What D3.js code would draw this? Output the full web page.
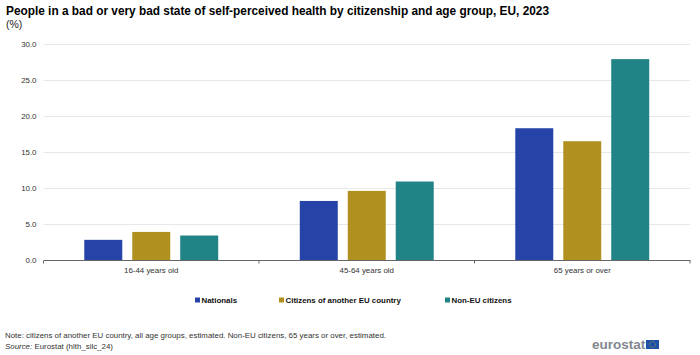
<!DOCTYPE html>
<html>
<head>
<meta charset="utf-8">
<script src="https://cdn.jsdelivr.net/npm/d3@7"></script>
<style>
body { margin: 0; background: #fff; }
text { font-family: "Liberation Sans", Arial, sans-serif; }
</style>
</head>
<body>
<div id="chart"></div>
<script>
var categories = ["16-44 years old", "45-64 years old", "65 years or over"];
var seriesNames = ["Nationals", "Citizens of another EU country", "Non-EU citizens"];
var nationals = [2.8, 8.2, 18.3];
var otherEu = [3.9, 9.6, 16.5];
var nonEu = [3.4, 10.9, 27.9];
var yTicks = [0, 5, 10, 15, 20, 25, 30];
var colors = ["#2644a7", "#b09120", "#208486"];

var width = 700, height = 355;
var plotLeft = 43.5, plotRight = 690, plotTop = 44, plotBottom = 260;

var svg = d3.select("#chart").append("svg")
    .attr("width", width)
    .attr("height", height)
    .style("display", "block");

var values = [nationals, otherEu, nonEu];

var xScale = d3.scaleBand().domain(categories).range([plotLeft, plotRight]);
var xInner = d3.scaleBand().domain(seriesNames).range([0, xScale.bandwidth()])
    .paddingInner(0.208).paddingOuter(0.85);
var yScale = d3.scaleLinear().domain([0, 30]).range([plotBottom, plotTop]);

// title
svg.append("text")
    .attr("x", 6).attr("y", 15)
    .attr("font-size", "11.85px")
    .attr("font-weight", "bold")
    .attr("fill", "#000")
    .text("People in a bad or very bad state of self-perceived health by citizenship and age group, EU, 2023");
svg.append("text")
    .attr("x", 6).attr("y", 28)
    .attr("font-size", "10.5px")
    .attr("fill", "#222")
    .text("(%)");

// y axis + gridlines
var yAxis = svg.append("g")
    .attr("transform", "translate(" + plotLeft + ",0)")
    .call(d3.axisLeft(yScale).tickValues(yTicks).tickSize(0).tickPadding(7)
        .tickFormat(d3.format(".1f")));
yAxis.select(".domain").remove();
yAxis.selectAll("text").attr("font-size", "7.9px").attr("fill", "#333");
yAxis.selectAll("line")
    .attr("x2", plotRight - plotLeft)
    .attr("stroke", "#e8e8e8")
    .attr("stroke-width", 1);

// bars
seriesNames.forEach(function(name, s) {
    svg.append("g")
        .selectAll("rect")
        .data(values[s])
        .join("rect")
        .attr("x", function(d, i) { return xScale(categories[i]) + xInner(name); })
        .attr("y", function(d) { return yScale(d); })
        .attr("width", xInner.bandwidth())
        .attr("height", function(d) { return plotBottom - yScale(d); })
        .attr("fill", colors[s]);
});

// x axis, ticks sit between the groups
var xAxis = svg.append("g")
    .attr("transform", "translate(0," + plotBottom + ")")
    .call(d3.axisBottom(xScale).tickSize(0).tickPadding(7.5));
xAxis.select(".domain").attr("stroke", "#666").attr("stroke-width", 1);
xAxis.selectAll("text").attr("font-size", "7.9px").attr("fill", "#333");
var edges = categories.map(function(c) { return xScale(c); }).concat([plotRight]);
xAxis.selectAll(".edge")
    .data(edges)
    .join("line")
    .attr("class", "edge")
    .attr("x1", function(d) { return d; })
    .attr("x2", function(d) { return d; })
    .attr("y1", 0.5).attr("y2", 3.5)
    .attr("stroke", "#666");

// legend
var legendX = [195, 279, 445];
var legend = svg.append("g").selectAll("g")
    .data(seriesNames)
    .join("g")
    .attr("transform", function(d, i) { return "translate(" + legendX[i] + ",298)"; });
legend.append("rect")
    .attr("width", 5).attr("height", 5)
    .attr("y", -0.5)
    .attr("fill", function(d, i) { return colors[i]; });
legend.append("text")
    .attr("x", 6.5).attr("y", 5)
    .attr("font-size", "7.9px")
    .attr("font-weight", "bold")
    .attr("fill", "#111")
    .text(function(d) { return d; });

// footer
svg.append("text")
    .attr("x", 5).attr("y", 338)
    .attr("font-size", "7.9px")
    .attr("fill", "#333")
    .text("Note: citizens of another EU country, all age groups, estimated. Non-EU citizens, 65 years or over, estimated.");
var source = svg.append("text")
    .attr("x", 5).attr("y", 349)
    .attr("font-size", "7.9px")
    .attr("fill", "#333");
source.append("tspan").attr("font-style", "italic").text("Source:");
source.append("tspan").text(" Eurostat (hlth_silc_24)");

// eurostat logo
svg.append("text")
    .attr("x", 592).attr("y", 349)
    .attr("font-size", "13.5px")
    .attr("font-weight", "bold")
    .attr("fill", "#7f8790")
    .text("eurostat");
svg.append("rect")
    .attr("x", 646).attr("y", 340)
    .attr("width", 13).attr("height", 9)
    .attr("fill", "#1c4fa8");
svg.append("circle")
    .attr("cx", 652.5).attr("cy", 344.5).attr("r", 3)
    .attr("fill", "none")
    .attr("stroke", "#a89a3a")
    .attr("stroke-width", 0.8)
    .attr("stroke-dasharray", "1 0.6");
</script>
</body>
</html>
